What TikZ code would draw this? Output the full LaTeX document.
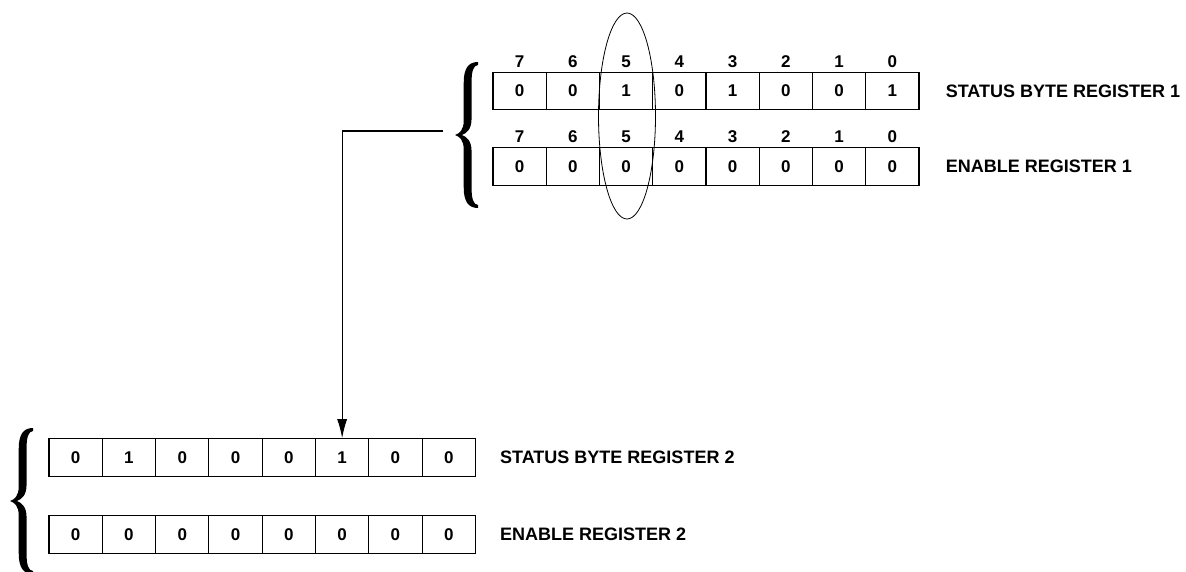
\documentclass[tikz,border=0pt]{standalone}
\usepackage{fontspec}
\setmainfont{Liberation Sans}
\usetikzlibrary{arrows.meta, shapes.geometric, positioning}

% curly brace: tip x, tip y, width, half height
\newcommand{\regbrace}[4]{%
  \fill[shift={(#1,#2)}, x=#3pt, y=#4pt]
    (1,1) .. controls (0.6,1) and (0.38,0.92) .. (0.38,0.72) -- (0.38,0.2)
    .. controls (0.38,0.07) and (0.2,0.02) .. (0,0)
    .. controls (0.2,-0.02) and (0.38,-0.07) .. (0.38,-0.2) -- (0.38,-0.72)
    .. controls (0.38,-0.92) and (0.6,-1) .. (1,-1) -- (1,-0.96)
    .. controls (0.8,-0.95) and (0.72,-0.88) .. (0.72,-0.72) -- (0.72,-0.22)
    .. controls (0.72,-0.08) and (0.5,-0.02) .. (0.3,0)
    .. controls (0.5,0.02) and (0.72,0.08) .. (0.72,0.22) -- (0.72,0.72)
    .. controls (0.72,0.88) and (0.8,0.95) .. (1,0.96) -- cycle;}

\tikzset{
  bit/.style={draw, line width=1.1pt, minimum width=53.3pt, minimum height=37.5pt,
    inner sep=0pt, font=\fontsize{17}{17}\selectfont\bfseries},
  bitno/.style={inner sep=0pt, font=\fontsize{17}{17}\selectfont\bfseries},
  reglabel/.style={inner sep=0pt, anchor=west, font=\fontsize{18}{18}\selectfont\bfseries},
  pick/.style={ellipse, draw, line width=0.8pt, minimum width=57pt, minimum height=206pt, inner sep=0pt},
  link/.style={line width=1.2pt, -{Latex[length=19pt, width=10pt]}},
}

\begin{document}
\begin{tikzpicture}[x=1pt, y=-1pt]
  \useasboundingbox (0,0) rectangle (1186,571);

  % register pair 1
  \foreach \n [count=\i from 0] in {7,6,...,0} {
    \node[bitno] (na-\i) at ({493+53.25*(\i+0.5)},62) {\n};
    \node[bitno] (nb-\i) at ({493+53.25*(\i+0.5)},137) {\n};
  }
  \foreach \v [count=\i from 0] in {0,0,1,0,1,0,0,1}
    \node[bit] (sa-\i) at ({493+53.25*(\i+0.5)},91) {\v};
  \foreach \v [count=\i from 0] in {0,0,0,0,0,0,0,0}
    \node[bit] (ea-\i) at ({493+53.25*(\i+0.5)},166.5) {\v};
  \node[reglabel, right=26pt of sa-7] (lsa) {STATUS BYTE REGISTER 1};
  \node[reglabel, right=26pt of ea-7] (lea) {ENABLE REGISTER 1};

  % register pair 2
  \foreach \v [count=\i from 0] in {0,1,0,0,0,1,0,0}
    \node[bit] (sb-\i) at ({49+53.3*(\i+0.5)},457.5) {\v};
  \foreach \v [count=\i from 0] in {0,0,0,0,0,0,0,0}
    \node[bit] (eb-\i) at ({49+53.3*(\i+0.5)},534.5) {\v};
  \node[reglabel, right=24pt of sb-7] (lsb) {STATUS BYTE REGISTER 2};
  \node[reglabel, right=24pt of eb-7] (leb) {ENABLE REGISTER 2};

  % braces
  \regbrace{455}{135}{23}{73}
  \regbrace{10}{501}{23}{73}

  % bit 5 selection and summary line
  \node[pick] (sel) at (627,116) {};
  \coordinate (tap) at (443,131);
  \draw[link] (tap) -| (sb-5.north);

\end{tikzpicture}
\end{document}
